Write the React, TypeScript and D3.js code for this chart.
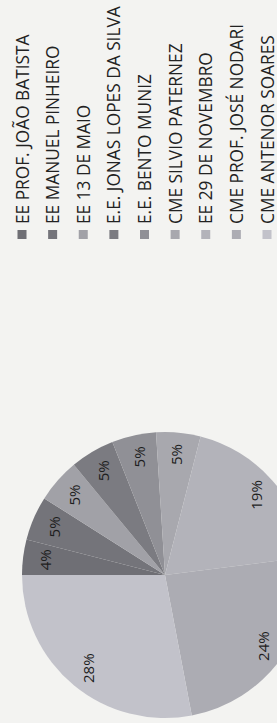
import React from "react";
import * as d3 from "d3";

// Schools, in legend order (also the order of the slices, clockwise)
const schools = [
  "EE PROF. JOÃO BATISTA",
  "EE MANUEL PINHEIRO",
  "EE 13 DE MAIO",
  "E.E. JONAS LOPES DA SILVA",
  "E.E. BENTO MUNIZ",
  "CME SILVIO PATERNEZ",
  "EE 29 DE NOVEMBRO",
  "CME PROF. JOSÉ NODARI",
  "CME ANTENOR SOARES",
];
const shares = [4, 5, 5, 5, 5, 5, 19, 24, 28];
const sliceColors = [
  "#6f6f75", "#74747a", "#a1a1a7", "#7b7b81", "#909096",
  "#a8a8ae", "#b3b3ba", "#acacb3", "#c2c2ca",
];

const W = 277;
const H = 723;
const cx = 165;
const cy = 575;
const radius = 143;
const labelRadius = 121;
const font = "'Open Sans', 'DejaVu Sans', sans-serif";

export default function App() {
  // the picture is the usual Excel pie turned a quarter turn to the left:
  // the first slice starts at 9 o'clock and the legend sits above the pie
  const pie = d3.pie<number>().sort(null).value(d => d)
    .startAngle(-Math.PI / 2).endAngle(Math.PI * 1.5);
  const arcs = pie(shares);
  const arc = d3.arc<d3.PieArcDatum<number>>().innerRadius(0).outerRadius(radius);
  const labelArc = d3.arc<d3.PieArcDatum<number>>().innerRadius(labelRadius).outerRadius(labelRadius);

  const legendX = d3.scalePoint<string>().domain(schools).range([22, 267]);
  const legendTextY = 224;
  const legendBoxY = 230;

  return (
    <svg width={W} height={H} viewBox={`0 0 ${W} ${H}`}
      style={{ position: "absolute", left: 0, top: 0, background: "#f3f3f1" }}>
      <rect width={W} height={H} fill="#f3f3f1" />

      <g transform={`translate(${cx},${cy})`}>
        {arcs.map((a, i) => (
          <path key={i} d={arc(a) || ""} fill={sliceColors[i]} />
        ))}
        {arcs.map((a, i) => {
          const [x, y] = labelArc.centroid(a);
          return (
            <text key={"l" + i} transform={`translate(${x},${y}) rotate(-90)`}
              textAnchor="middle" dominantBaseline="central"
              fontFamily={font} fontSize={15} fill="#1e1e1e">
              {a.data}%
            </text>
          );
        })}
      </g>

      <g>
        {schools.map((s, i) => {
          const x = legendX(s) || 0;
          return (
            <g key={s}>
              <rect x={x - 4.5} y={legendBoxY} width={9} height={9} fill={sliceColors[i]} />
              <text transform={`translate(${x},${legendTextY}) rotate(-90)`}
                dominantBaseline="central" fontFamily={font} fontSize={17.3}
                fill="#222">
                {s}
              </text>
            </g>
          );
        })}
      </g>
    </svg>
  );
}
